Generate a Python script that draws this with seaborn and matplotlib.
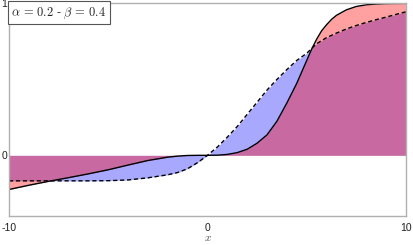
import matplotlib
matplotlib.use("Agg")
import matplotlib.pyplot as plt
import seaborn as sns
import pandas as pd

# values
x_solid = [-10, -9, -8, -7, -6, -5, -4, -3, -2, -1.5, -1, -0.5, 0, 0.5, 1, 1.5, 2, 2.5,
           3, 3.5, 4, 4.5, 4.75, 5, 5.25, 5.5, 5.75, 6, 6.25, 6.5, 7, 7.5, 8, 8.5, 9,
           9.5, 10]
y_solid = [-0.225, -0.197, -0.171, -0.147, -0.122, -0.095, -0.064, -0.034, -0.012, -0.005,
           -0.001, 0.0, 0.0, 0.001, 0.006, 0.018, 0.040, 0.080, 0.135, 0.225, 0.345, 0.475,
           0.55, 0.625, 0.70, 0.765, 0.82, 0.86, 0.895, 0.922, 0.958, 0.980, 0.991, 0.996,
           0.999, 1.0, 1.0]

x_dash = [-10, -9, -8, -7, -6, -5, -4, -3, -2, -1.5, -1, -0.5, 0, 0.5, 1, 1.5, 2, 2.5,
          3, 3.5, 4, 4.5, 5, 5.5, 6, 6.5, 7, 7.5, 8, 8.5, 9, 9.5, 10]
y_dash = [-0.168, -0.168, -0.168, -0.168, -0.168, -0.167, -0.162, -0.148, -0.128, -0.113,
          -0.088, -0.048, 0.0, 0.055, 0.12, 0.19, 0.27, 0.35, 0.43, 0.50, 0.565, 0.625,
          0.672, 0.735, 0.775, 0.805, 0.832, 0.855, 0.875, 0.893, 0.91, 0.928, 0.945]

label = r"$\alpha\,=\,0.2$ - $\beta\,=\,0.4$"

sns.set_style("white")
plt.rcParams["font.family"] = ["Liberation Sans", "DejaVu Sans"]
plt.rcParams["mathtext.fontset"] = "cm"

solid = pd.DataFrame({"x": x_solid, "y": y_solid})
dash = pd.DataFrame({"x": x_dash, "y": y_dash})

fig = plt.figure(figsize=(4.14, 2.45), dpi=100)
ax = fig.add_axes([0.0217, 0.118, 0.959, 0.868])

# blue under, red on top -> purple overlap
ax.fill_between(dash["x"], dash["y"], 0, color="blue", alpha=0.34, lw=0)
ax.fill_between(solid["x"], solid["y"], 0, color="red", alpha=0.37, lw=0)
sns.lineplot(data=dash, x="x", y="y", ax=ax, color="black", lw=1.0,
             linestyle=(0, (3, 2)))
sns.lineplot(data=solid, x="x", y="y", ax=ax, color="black", lw=1.0)

ax.set_xlim(-10, 10)
ax.set_ylim(-0.4, 1)
ax.set_xticks([-10, 0, 10])
ax.set_xticklabels(["-10", "0", "10"])
ax.set_yticks([0, 1])
ax.set_yticklabels(["0", "1"])
ax.tick_params(length=0, labelsize=7.5, colors="#222222")
ax.tick_params(axis="x", pad=5)
ax.tick_params(axis="y", pad=1.5)
ax.set_xlabel(r"$x$", fontsize=8, labelpad=0, color="#444444")
ax.set_ylabel("")
for s in ax.spines.values():
    s.set_color("#b0b0b0")
    s.set_linewidth(1.0)

ax.text(0.006, 0.992, label, transform=ax.transAxes, ha="left", va="top",
        fontsize=9,
        bbox=dict(boxstyle="square,pad=0.3", fc="white", ec="#555555", lw=0.8))

fig.savefig("out.png", dpi=100)
